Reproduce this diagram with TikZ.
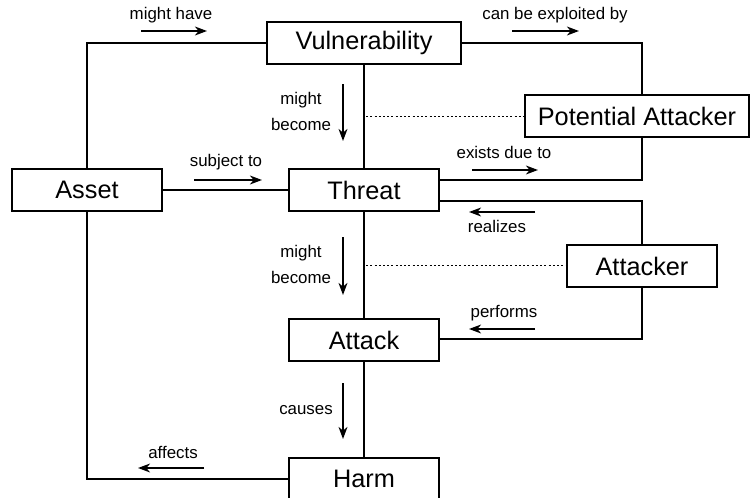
\documentclass[tikz,border=0pt]{standalone}
\usepackage{fontspec}
\setmainfont{Liberation Sans}
\usetikzlibrary{arrows.meta}
\begin{document}
\begin{tikzpicture}[x=0.02cm, y=-0.02cm,
  line width=0.04cm,
  entity/.style={draw, line width=0.04cm, inner sep=0pt, font=\fontsize{14.4}{16}\selectfont,
    minimum width=#1, minimum height=0.84cm},
  entity/.default=3cm,
  rel/.style={font=\fontsize{9.6}{11.5}\selectfont, inner sep=0pt, align=center},
  hint/.style={line width=0.04cm, -{Stealth[length=6.8pt, width=5pt, inset=2pt]}},
  link/.style={line width=0.04cm},
  weak/.style={line width=0.03cm, dash pattern=on 0.04cm off 0.045cm}]
\useasboundingbox (0,0) rectangle (750,497);

% entities
\node[entity=3.88cm] (vul) at (364,43) {Vulnerability};
\node[entity=4.48cm] (pot) at (637,116) {Potential Attacker};
\node[entity=3cm] (asset) at (87,190) {Asset};
\node[entity=3cm] (threat) at (364,190) {Threat};
\node[entity=3cm] (att) at (642,266) {Attacker};
\node[entity=3cm] (attack) at (364,340) {Attack};
\node[entity=3cm] (harm) at (364,479) {Harm};

% connectors
\draw[link] (asset.north) |- (vul.west);
\draw[link] (vul.east) -| (pot.north -| 642,0);
\draw[link] (asset.east) -- (threat.west);
\draw[link] (vul.south) -- (threat.north);
\draw[link] (threat.south) -- (attack.north);
\draw[link] (attack.south) -- (harm.north);
\draw[link] (asset.south) |- (harm.west);
\coordinate (pa) at (642,180);
\draw[link] (pot.south -| pa) -- (pa) -- (threat.east |- pa);
\coordinate (ra) at (642,201);
\draw[link] (threat.east |- ra) -- (ra) -- (att.north);
\coordinate (pf) at (642,339);
\draw[link] (att.south) -- (pf) -- (attack.east |- pf);

% weak associations
\draw[weak] (366,116.5) -- (pot.west |- 0,116.5);
\draw[weak] (366,265.5) -- (att.west |- 0,265.5);

% reading directions
\draw[hint] (141,31) -- (207,31);
\node[rel] (l1) at (171,15) {might have};
\draw[hint] (512,31) -- (579,31);
\node[rel] (l2) at (555,15) {can be exploited by};
\draw[hint] (194,180) -- (262,180);
\node[rel] (l3) at (226,162) {subject to};
\draw[hint] (343,84) -- (343,141);
\node[rel] (l4) at (301,111.5) {might\\[3pt]become};
\draw[hint] (472,170) -- (538,170);
\node[rel] (l5) at (504,152) {exists due to};
\draw[hint] (535,212) -- (469,212);
\node[rel] (l6) at (497,226) {realizes};
\draw[hint] (343,237) -- (343,295);
\node[rel] (l7) at (301,264.5) {might\\[3pt]become};
\draw[hint] (535,329) -- (469,329);
\node[rel] (l8) at (504,313) {performs};
\draw[hint] (343,383) -- (343,439);
\node[rel] (l9) at (306,410) {causes};
\draw[hint] (204,468) -- (138,468);
\node[rel] (l10) at (173,452) {affects};
\end{tikzpicture}
\end{document}
